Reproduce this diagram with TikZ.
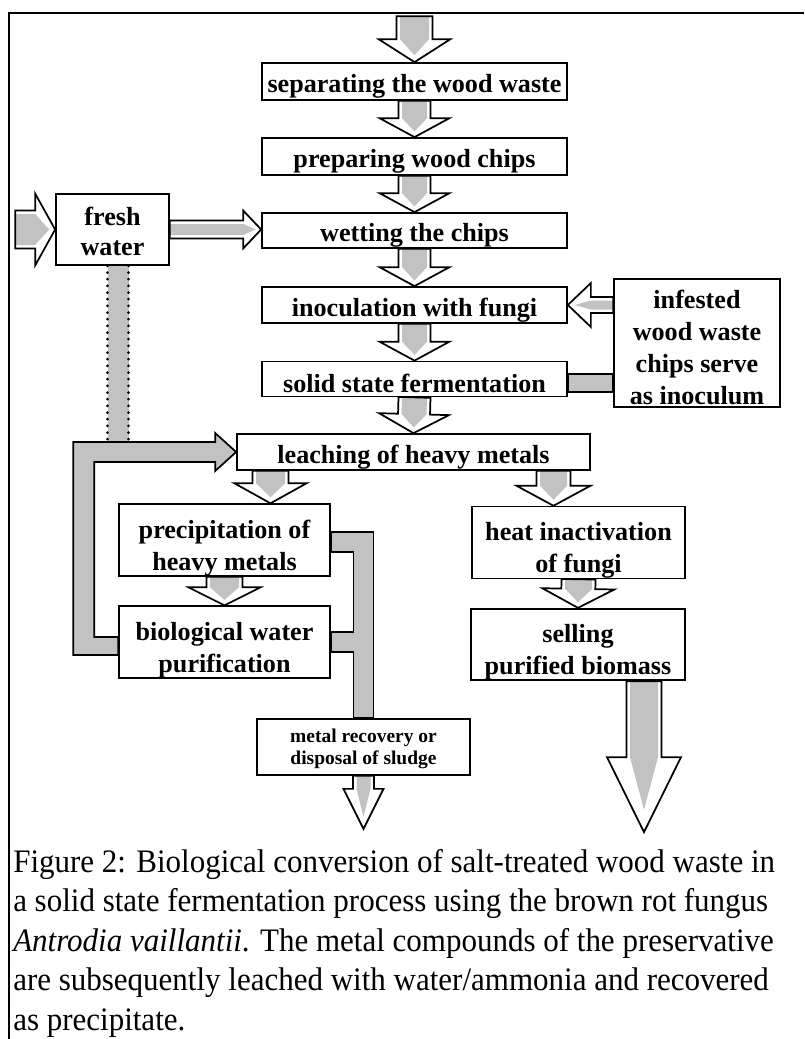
\documentclass[tikz,border=0pt]{standalone}
\usepackage{fontspec}
\setmainfont{Liberation Serif}
\newfontfamily\capfont[FakeStretch=0.945]{Liberation Serif}
\usepackage{tikz}
\usetikzlibrary{calc}
\definecolor{grain}{gray}{0.76}
\newcommand{\topstrut}[1]{\rule{0pt}{#1}}
\newcommand{\blockarrow}[5]{%
  \pgfmathsetlengthmacro\bas{#3*0.75pt}%
  \pgfmathsetlengthmacro\bag{(#3-3.5)*0.75pt}%
  \pgfmathsetlengthmacro\bah{#4*0.75pt}%
  \pgfmathsetlengthmacro\bal{#5*0.75pt}%
  \pgfmathsetlengthmacro\bat{#5*0.3*0.75pt}%
  \coordinate (ba0) at (#1);
  \coordinate (ba1) at (#2);
  \coordinate (bak) at ($(ba1)!\bal!(ba0)$);
  \fill[grain] ($(ba0)!\bag!90:(ba1)$) -- ($(bak)!\bag!90:(ba1)$) -- ($(ba1)!\bat!(ba0)$)
    -- ($(bak)!\bag!-90:(ba1)$) -- ($(ba0)!\bag!-90:(ba1)$) -- cycle;
  \draw[line width=1.3pt,line join=miter] ($(ba0)!\bas!90:(ba1)$) -- ($(bak)!\bas!90:(ba1)$)
    -- ($(bak)!\bah!90:(ba1)$) -- (ba1) -- ($(bak)!\bah!-90:(ba1)$)
    -- ($(bak)!\bas!-90:(ba1)$) -- ($(ba0)!\bas!-90:(ba1)$) -- cycle;
}

\begin{document}
\begin{tikzpicture}[x=0.75pt,y=-0.75pt,
  box/.style={draw,line width=1.3pt,inner sep=0pt,align=center,
    font=\fontsize{19.6pt}{24pt}\selectfont\bfseries},
  wh/.style 2 args={minimum width=#1*0.75pt,minimum height=#2*0.75pt},
  chan/.style={fill=grain,draw,line width=1.3pt,line join=miter},
  dotrule/.style={line width=2.2pt,dash pattern=on 0pt off 5pt,line cap=round}]
\useasboundingbox (0,0) rectangle (804,1039);
\draw[line width=1.6pt] (9,1039) -- (9,13) -- (804,13);

\node[box,wh={305}{37}] (sep) at (414.5,81.5) {\topstrut{21pt}separating the wood waste};
\node[box,wh={305}{37}] (prep) at (414.5,156.5) {\topstrut{21pt}preparing wood chips};
\node[box,wh={305}{35}] (wet) at (414.5,230.5) {\topstrut{21pt}wetting the chips};
\node[box,wh={113}{71},font=\fontsize{19.6pt}{22.5pt}\selectfont\bfseries] (fresh) at (112.5,229.5) {\topstrut{17.3pt}fresh\\water};
\node[box,wh={305}{36}] (inoc) at (414.5,305) {\topstrut{21pt}inoculation with fungi};
\node[box,wh={166}{128}] (infest) at (697,343) {\topstrut{21pt}infested\\wood waste\\chips serve\\as inoculum};
\node[box,wh={305}{35}] (solid) at (414.5,379) {\topstrut{21pt}solid state fermentation};
\node[box,wh={353}{36}] (leach) at (413.5,452) {\topstrut{21pt}leaching of heavy metals};
\node[box,wh={211}{64}] (precip) at (224.5,540) {\topstrut{25.5pt}precipitation of\\heavy metals};
\node[box,wh={213}{65}] (heat) at (578.5,542.5) {\topstrut{25.5pt}heat inactivation\\of fungi};
\node[box,wh={211}{64}] (bio) at (224.5,642) {\topstrut{25.5pt}biological water\\purification};
\node[box,wh={214}{65}] (sell) at (578,644.5) {\topstrut{25.5pt}selling\\purified biomass};
\node[box,wh={213}{56},font=\fontsize{14.6pt}{16.5pt}\selectfont\bfseries] (metal) at (363.5,747) {\topstrut{13pt}metal recovery or\\disposal of sludge};

\coordinate (src) at ($(sep.north)+(0,-46)$);
\blockarrow{src}{sep.north}{18}{36}{23}
\blockarrow{sep.south}{prep.north}{16}{35}{19}
\blockarrow{prep.south}{wet.north}{16}{35}{19}
\blockarrow{wet.south}{inoc.north}{16}{35}{19}
\blockarrow{inoc.south}{solid.north}{16}{35}{19}
\blockarrow{solid.south}{leach.north}{16}{35}{19}
\coordinate (lp) at ($(leach.south)+(-143,0)$);
\blockarrow{lp}{lp |- precip.north}{18}{36}{20}
\coordinate (lh) at ($(leach.south)+(140,0)$);
\blockarrow{lh}{lh |- heat.north}{17}{37}{20}
\blockarrow{precip.south}{bio.north}{18}{36}{18}
\blockarrow{heat.south}{sell.north}{17}{36}{19}
\coordinate (sl) at ($(sell.south)+(66,0)$);
\coordinate (sink) at ($(sl)+(0,151)$);
\blockarrow{sl}{sink}{17.5}{37}{75}
\coordinate (drain) at ($(metal.south)+(0,53)$);
\blockarrow{metal.south}{drain}{10.5}{20}{40}
\coordinate (tap) at ($(fresh.west)+(-40,0)$);
\blockarrow{tap}{fresh.west}{19}{36}{20}
\blockarrow{fresh.east}{fresh.east -| wet.west}{9}{19}{18}
\blockarrow{infest.west |- inoc.east}{inoc.east}{8}{22}{23}
\coordinate (iw) at (infest.west |- solid.east);
\filldraw[chan] ($(solid.east)+(0,-5)$) rectangle ($(iw)+(0,13)$);

\coordinate (fw1) at ($(fresh.south)+(-5,0)$);
\coordinate (fw2) at ($(fresh.south)+(16,0)$);
\coordinate (lt) at ($(leach.west)+(0,-10)$);
\fill[grain] (fw1) rectangle (fw2 |- lt);
\draw[dotrule] (fw1) -- (fw1 |- lt) (fw2) -- (fw2 |- lt);

\filldraw[chan] ($(bio.west)+(0,-5)$) -- ($(bio.west)+(-24,-5)$) |- ($(leach.west)+(-21,10)$)
  -- ($(leach.west)+(-21,19)$) -- (leach.west) -- ($(leach.west)+(-21,-19)$)
  -- ($(leach.west)+(-21,-10)$) -| ($(bio.west)+(-45,13)$) -- ($(bio.west)+(0,13)$) -- cycle;

\coordinate (ri) at ($(metal.north)+(-10,0)$);
\coordinate (ro) at ($(metal.north)+(10,0)$);
\coordinate (pb) at ($(precip.east)+(0,12)$);
\filldraw[chan] ($(precip.east)+(0,-8)$) -| (ro) -- (ri) |- ($(bio.east)+(0,10)$)
  -- ($(bio.east)+(0,-10)$) -| (ri |- pb) -- (pb) -- cycle;

\node[anchor=north west,inner sep=0pt,align=left,font=\capfont\fontsize{24.6pt}{29.6pt}\selectfont] (caption) at (13,849)
  {Figure 2: Biological conversion of salt-treated wood waste in\\
   a solid state fermentation process using the brown rot fungus\\
   \textit{Antrodia vaillantii}. The metal compounds of the preservative\\
   are subsequently leached with water/ammonia and recovered\\
   as precipitate.};
\end{tikzpicture}
\end{document}
